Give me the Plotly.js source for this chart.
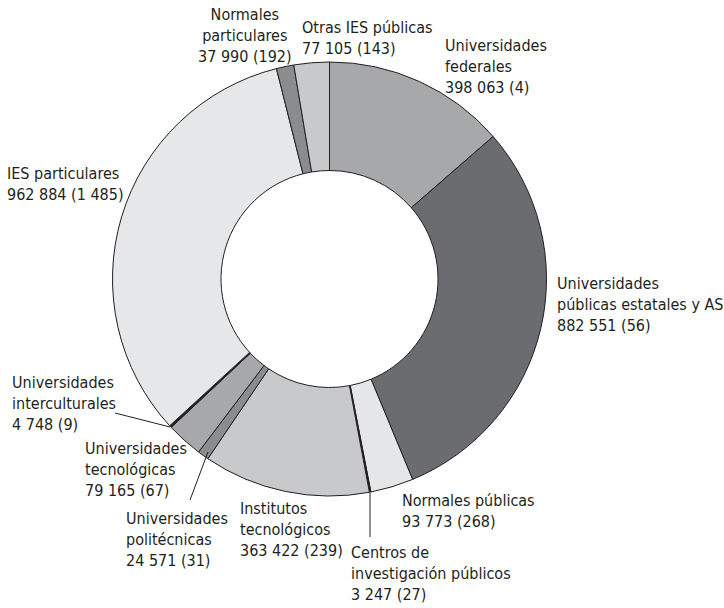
<!DOCTYPE html>
<html>
<head>
<meta charset="utf-8">
<script src="https://cdn.plot.ly/plotly-3.0.1.min.js"></script>
<style>html,body{margin:0;padding:0;background:#fff;}#chart{width:724px;height:608px;}</style>
</head>
<body>
<div id="chart"></div>
<script>
// ---- data ----
const categories = ["Universidades federales", "Universidades públicas estatales y AS", "Normales públicas", "Centros de investigación públicos", "Institutos tecnológicos", "Universidades politécnicas", "Universidades tecnológicas", "Universidades interculturales", "IES particulares", "Normales particulares", "Otras IES públicas"];
const matricula = [398063, 882551, 93773, 3247, 363422, 24571, 79165, 4748, 962884, 37990, 77105];
const instituciones = [4, 56, 268, 27, 239, 31, 67, 9, 1485, 192, 143];
const labelNames = ["Universidades<br>federales", "Universidades<br>públicas estatales y AS", "Normales públicas", "Centros de<br>investigación públicos", "Institutos<br>tecnológicos", "Universidades<br>politécnicas", "Universidades<br>tecnológicas", "Universidades<br>interculturales", "IES particulares", "Normales<br>particulares", "Otras IES públicas"];

// ---- styles / layout ----
const colors = ["#a7a8aa", "#6b6c70", "#e5e6e7", "#231f20", "#c8c9cb", "#8b8c8e", "#a7a8aa", "#231f20", "#e6e7e8", "#8b8c8e", "#c8c9cb"];
// label positions in pixels: [x, first-line center y, anchor]
const labelPos = [[443,45,"left"],[555,283,"left"],[400,500,"left"],[349,552,"left"],[238,508,"left"],[124,518,"left"],[83,448,"left"],[10,382,"left"],[5,173,"left"],[245,14,"center"],[300,27,"left"]];
const W = 724, H = 608;
const px = x => x / W, py = y => 1 - y / H;
const fmt = n => String(n).replace(/\B(?=(\d{3})+(?!\d))/g, ' ');
const FONT = "'Liberation Sans Narrow', 'DejaVu Sans Condensed', 'Arial Narrow', sans-serif";

const cx = 329.5, cy = 279, r = 217;

const annotations = categories.map((c, i) => ({
  xref: 'paper', yref: 'paper',
  x: px(labelPos[i][0]), y: py(labelPos[i][1] - 11),
  xanchor: labelPos[i][2], yanchor: 'top', align: labelPos[i][2],
  showarrow: false,
  text: labelNames[i] + '<br>' + fmt(matricula[i]) + ' (' + fmt(instituciones[i]) + ')',
  font: {family: FONT, size: 16, color: '#231f20'}
}));

const leader = (x0, y0, x1, y1) => ({type: 'line', xref: 'paper', yref: 'paper', x0: px(x0), y0: py(y0), x1: px(x1), y1: py(y1), line: {color: '#231f20', width: 1}});
const shapes = [
  leader(115, 413, 170, 427),
  leader(190, 500, 208, 452),
  leader(370, 493, 370, 537)
];

const trace = {
  type: 'pie',
  labels: categories,
  values: matricula,
  hole: 0.5,
  sort: false,
  direction: 'clockwise',
  rotation: 0,
  textinfo: 'none',
  hoverinfo: 'label+value',
  marker: {colors: colors, line: {color: '#231f20', width: 1}},
  domain: {x: [px(cx - r), px(cx + r)], y: [py(cy + r), py(cy - r)]},
  showlegend: false
};

Plotly.newPlot('chart', [trace], {
  width: W, height: H,
  margin: {l: 0, r: 0, t: 0, b: 0},
  paper_bgcolor: '#fff',
  showlegend: false,
  annotations: annotations,
  shapes: shapes
}, {displayModeBar: false, staticPlot: true});
</script>
</body>
</html>
